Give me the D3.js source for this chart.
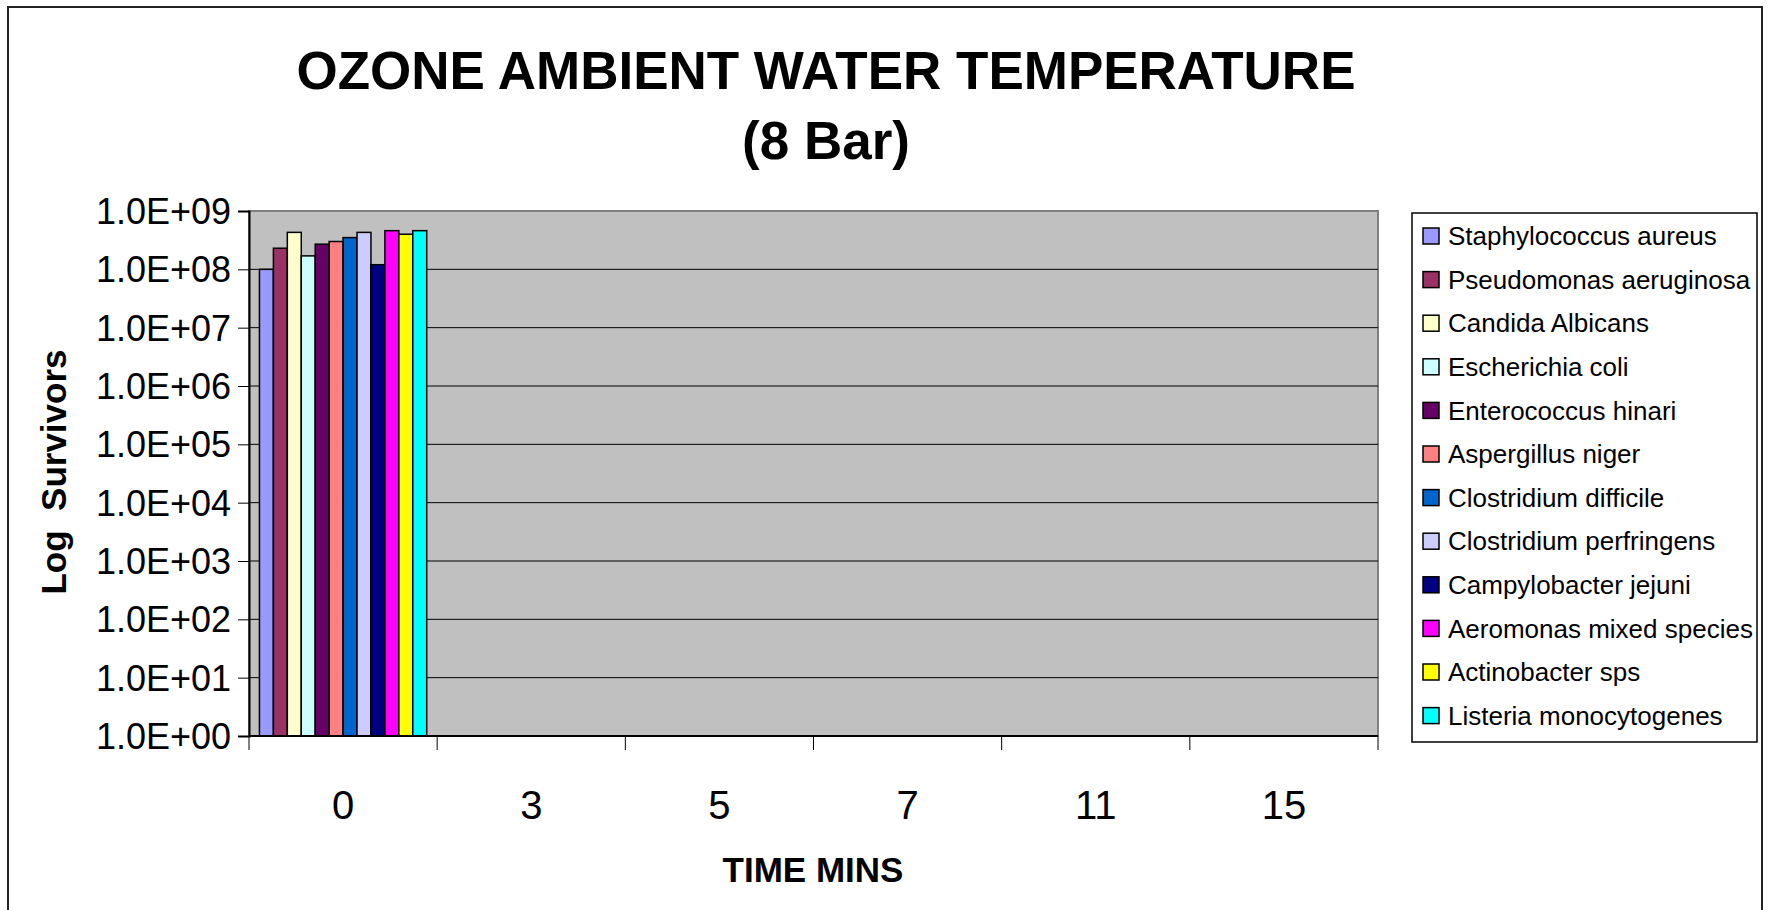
<!DOCTYPE html>
<html>
  <head>
    <meta charset="utf-8">
    <title>Ozone ambient water temperature</title>
    <script src="https://d3js.org/d3.v7.min.js"></script>
    <style>
      body { margin: 0; background: #fff; }
      svg { display: block; font-family: "Liberation Sans", Arial, sans-serif; }
      .grid line { stroke: #000; stroke-width: 1; }
      .axis path, .axis line { stroke: #000; }
      .axis text { font-size: 36px; fill: #000; }
      .axis text.lbl { font-size: 40px; }
    </style>
  </head>
  <body>
    <div id="chart"></div>
    <script>
      // time points on the x axis
      var times = ['0', '3', '5', '7', '11', '15'];

      var species = [
        'Staphylococcus aureus',
        'Pseudomonas aeruginosa',
        'Candida Albicans',
        'Escherichia coli',
        'Enterococcus hinari',
        'Aspergillus niger',
        'Clostridium difficile',
        'Clostridium perfringens',
        'Campylobacter jejuni',
        'Aeromonas mixed species',
        'Actinobacter sps',
        'Listeria monocytogenes'
      ];

      // survivors at time 0, nothing recorded afterwards
      var survivors0 = [1.0e8, 2.3e8, 4.3e8, 1.7e8, 2.7e8, 3.0e8, 3.5e8, 4.3e8, 1.2e8, 4.6e8, 4.0e8, 4.6e8];

      var yTicks = [1e0, 1e1, 1e2, 1e3, 1e4, 1e5, 1e6, 1e7, 1e8, 1e9];

      var colors = ['#9999ff', '#993366', '#ffffcc', '#ccffff', '#660066', '#ff8080',
                    '#0066cc', '#ccccff', '#000080', '#ff00ff', '#ffff00', '#00ffff'];

      var width = 1769, height = 910;
      var plot = {left: 249, right: 1378, top: 211, bottom: 736};

      var svg = d3.select('#chart').append('svg')
        .attr('width', width)
        .attr('height', height);

      // outer frame
      svg.append('rect')
        .attr('x', 8).attr('y', 7)
        .attr('width', 1754).attr('height', 920)
        .attr('fill', '#fff')
        .attr('stroke', '#222')
        .attr('stroke-width', 2);

      svg.append('text')
        .attr('x', 826).attr('y', 89)
        .attr('text-anchor', 'middle')
        .attr('font-size', 53).attr('font-weight', 'bold')
        .text('OZONE AMBIENT WATER TEMPERATURE');
      svg.append('text')
        .attr('x', 826).attr('y', 159)
        .attr('text-anchor', 'middle')
        .attr('font-size', 53).attr('font-weight', 'bold')
        .text('(8 Bar)');

      var x0 = d3.scaleBand()
        .domain(times)
        .range([plot.left, plot.right])
        .padding(0);

      // excel gap width 150% -> bars fill 12 / 13.5 of a category
      var gap = x0.bandwidth() * 1.5 / 13.5 / 2;
      var x1 = d3.scaleBand()
        .domain(species)
        .range([gap, x0.bandwidth() - gap])
        .padding(0);

      var y = d3.scaleLog()
        .domain([1, 1e9])
        .range([plot.bottom, plot.top]);

      svg.append('rect')
        .attr('x', plot.left).attr('y', plot.top)
        .attr('width', plot.right - plot.left)
        .attr('height', plot.bottom - plot.top)
        .attr('fill', '#c0c0c0')
        .attr('stroke', '#808080')
        .attr('stroke-width', 2);

      svg.append('g')
        .attr('class', 'grid')
        .selectAll('line')
        .data(yTicks.slice(1, -1))
        .enter().append('line')
        .attr('x1', plot.left).attr('x2', plot.right)
        .attr('y1', function(d) { return y(d); })
        .attr('y2', function(d) { return y(d); });

      var rows = species.map(function(s, j) {
        return {time: times[0], name: s, value: survivors0[j], color: colors[j]};
      });

      svg.append('g').selectAll('rect')
        .data(rows)
        .enter().append('rect')
        .attr('x', function(d) { return x0(d.time) + x1(d.name); })
        .attr('y', function(d) { return y(d.value); })
        .attr('width', x1.bandwidth())
        .attr('height', function(d) { return plot.bottom - y(d.value); })
        .attr('fill', function(d) { return d.color; })
        .attr('stroke', '#000')
        .attr('stroke-width', 1.5);

      var yAxis = svg.append('g')
        .attr('class', 'axis')
        .attr('transform', 'translate(' + plot.left + ',0)')
        .call(d3.axisLeft(y)
          .tickValues(yTicks)
          .tickSize(11)
          .tickPadding(7)
          .tickFormat(function(d) {
            var e = Math.round(Math.log10(d));
            return '1.0E+' + (e < 10 ? '0' : '') + e;
          }));
      yAxis.select('.domain').attr('stroke-width', 2);
      yAxis.selectAll('text').attr('dy', '0.35em');

      // category ticks sit on band edges, labels in band centres
      var xAxis = svg.append('g')
        .attr('class', 'axis')
        .attr('transform', 'translate(0,' + plot.bottom + ')');
      xAxis.append('line')
        .attr('x1', plot.left).attr('x2', plot.right)
        .attr('stroke', '#000').attr('stroke-width', 2);
      xAxis.selectAll('.edge')
        .data(times.concat(['end']))
        .enter().append('line')
        .attr('class', 'edge')
        .attr('x1', function(d, i) { return plot.left + i * x0.bandwidth(); })
        .attr('x2', function(d, i) { return plot.left + i * x0.bandwidth(); })
        .attr('y1', 0).attr('y2', 14)
        .attr('stroke', '#000');
      xAxis.selectAll('.lbl')
        .data(times)
        .enter().append('text')
        .attr('class', 'lbl')
        .attr('x', function(d) { return x0(d) + x0.bandwidth() / 2; })
        .attr('y', 83)
        .attr('text-anchor', 'middle')
        .text(function(d) { return d; });

      svg.append('text')
        .attr('x', 813).attr('y', 882)
        .attr('text-anchor', 'middle')
        .attr('font-size', 35).attr('font-weight', 'bold')
        .text('TIME MINS');

      svg.append('text')
        .attr('transform', 'translate(66,472) rotate(-90)')
        .attr('text-anchor', 'middle')
        .attr('font-size', 35).attr('font-weight', 'bold')
        .attr('xml:space', 'preserve')
        .text('Log  Survivors');

      // legend
      var legend = svg.append('g').attr('transform', 'translate(1412,213)');
      legend.append('rect')
        .attr('width', 345).attr('height', 529)
        .attr('fill', '#fff')
        .attr('stroke', '#000')
        .attr('stroke-width', 1.5);
      var item = legend.selectAll('.item')
        .data(species)
        .enter().append('g')
        .attr('class', 'item')
        .attr('transform', function(d, i) { return 'translate(0,' + (23 + i * 43.6) + ')'; });
      item.append('rect')
        .attr('x', 11).attr('y', -8)
        .attr('width', 16).attr('height', 16)
        .attr('fill', function(d, i) { return colors[i]; })
        .attr('stroke', '#000')
        .attr('stroke-width', 1.5);
      item.append('text')
        .attr('x', 36).attr('dy', '0.35em')
        .attr('font-size', 26)
        .text(function(d) { return d; });
    </script>
  </body>
</html>
